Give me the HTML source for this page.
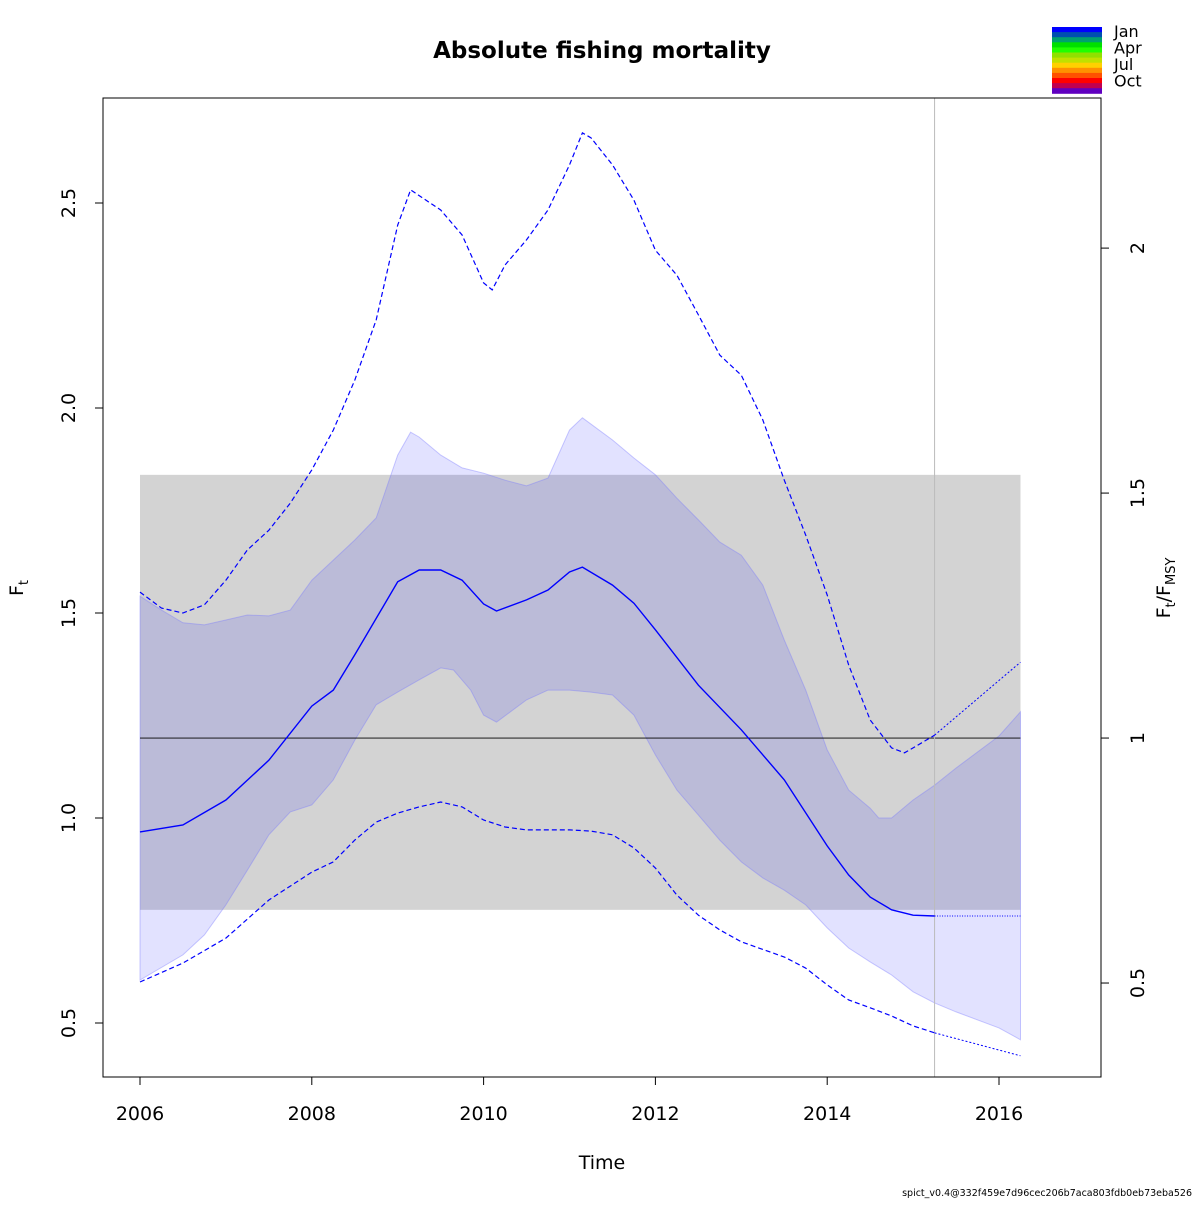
<!DOCTYPE html>
<html><head><meta charset="utf-8"><style>
body{margin:0;background:#fff}
svg{font-family:"DejaVu Sans","Liberation Sans",sans-serif}
</style></head><body>
<svg id="c" width="1200" height="1200" viewBox="0 0 1200 1200">
<rect width="1200" height="1200" fill="#fff"/>
<text x="602" y="58" text-anchor="middle" font-size="23" font-weight="bold">Absolute fishing mortality</text>
<g id="plot"></g>
<rect x="103" y="98" width="998" height="979" fill="none" stroke="#000" stroke-width="1"/>
<text x="602" y="1169" text-anchor="middle" font-size="19">Time</text>
<text transform="translate(23,588) rotate(-90)" text-anchor="middle" font-size="19">F<tspan font-size="13" dy="5">t</tspan></text>
<text transform="translate(1170,588) rotate(-90)" text-anchor="middle" font-size="19">F<tspan font-size="13" dy="5">t</tspan><tspan dy="-5">/F</tspan><tspan font-size="13" dy="5">MSY</tspan></text>
<g id="legend"></g>
<text x="1192" y="1196" text-anchor="end" font-size="9.5">spict_v0.4@332f459e7d96cec206b7aca803fdb0eb73eba526</text>
</svg>
<script>
const tMain=[2006,2006.5,2007,2007.5,2008,2008.25,2008.5,2009,2009.25,2009.5,2009.75,2010,2010.15,2010.5,2010.75,2011,2011.15,2011.5,2011.75,2012,2012.5,2013,2013.5,2014,2014.25,2014.5,2014.75,2015,2015.25];
const fMain=[0.966,0.983,1.044,1.141,1.273,1.312,1.398,1.576,1.605,1.605,1.580,1.522,1.505,1.532,1.556,1.600,1.612,1.568,1.524,1.459,1.324,1.215,1.093,0.932,0.861,0.807,0.776,0.763,0.761];
const predEnd=2016.25;
const tUp=[2006,2006.25,2006.5,2006.75,2007,2007.25,2007.5,2007.75,2008,2008.25,2008.5,2008.75,2009,2009.15,2009.25,2009.5,2009.75,2010,2010.25,2010.5,2010.75,2011,2011.15,2011.5,2011.75,2012,2012.25,2012.5,2012.75,2013,2013.25,2013.5,2013.75,2014,2014.25,2014.5,2014.6,2014.75,2015,2015.25,2015.5,2016,2016.25];
const fUp=[1.541,1.507,1.476,1.471,1.483,1.495,1.493,1.507,1.580,1.629,1.678,1.732,1.885,1.941,1.929,1.885,1.854,1.841,1.824,1.810,1.829,1.946,1.976,1.922,1.878,1.837,1.780,1.727,1.673,1.641,1.568,1.434,1.312,1.166,1.068,1.024,1.000,1.000,1.044,1.080,1.122,1.200,1.259];
const tLo=[2006,2006.5,2006.75,2007,2007.25,2007.5,2007.75,2008,2008.25,2008.5,2008.75,2009,2009.25,2009.5,2009.65,2009.85,2010,2010.15,2010.5,2010.75,2011,2011.25,2011.5,2011.75,2012,2012.25,2012.5,2012.75,2013,2013.25,2013.5,2013.75,2014,2014.25,2014.5,2014.75,2015,2015.25,2015.5,2016,2016.25];
const fLo=[0.605,0.666,0.715,0.788,0.873,0.959,1.015,1.032,1.093,1.190,1.276,1.307,1.337,1.366,1.361,1.312,1.251,1.234,1.288,1.312,1.312,1.307,1.300,1.251,1.154,1.068,1.007,0.946,0.893,0.854,0.824,0.788,0.732,0.683,0.649,0.617,0.576,0.549,0.527,0.488,0.459];
const tDU=[2006,2006.25,2006.5,2006.75,2007,2007.25,2007.5,2007.75,2008,2008.25,2008.5,2008.75,2009,2009.15,2009.5,2009.75,2010,2010.1,2010.25,2010.5,2010.75,2011,2011.15,2011.25,2011.5,2011.75,2012,2012.25,2012.5,2012.75,2013,2013.25,2013.5,2013.75,2014,2014.25,2014.5,2014.75,2014.9,2015,2015.25];
const fDU=[1.551,1.512,1.500,1.520,1.580,1.654,1.702,1.768,1.849,1.946,2.068,2.215,2.446,2.532,2.483,2.422,2.305,2.288,2.349,2.410,2.483,2.593,2.671,2.659,2.593,2.507,2.385,2.324,2.227,2.129,2.080,1.971,1.824,1.690,1.544,1.373,1.239,1.171,1.159,1.171,1.202];
const fDUpredEnd=1.380;
const tDL=[2006,2006.5,2007,2007.5,2008,2008.25,2008.5,2008.75,2009,2009.25,2009.5,2009.75,2010,2010.25,2010.5,2011,2011.25,2011.5,2011.75,2012,2012.25,2012.5,2012.75,2013,2013.5,2013.75,2014,2014.25,2014.5,2014.75,2015,2015.25];
const fDL=[0.600,0.646,0.707,0.800,0.868,0.893,0.946,0.990,1.012,1.027,1.039,1.027,0.995,0.978,0.971,0.971,0.968,0.959,0.927,0.878,0.812,0.763,0.727,0.698,0.661,0.634,0.593,0.556,0.537,0.517,0.493,0.476];
const fDLpredEnd=0.420;
const fmsy=1.195, fmsyLo=0.776, fmsyHi=1.837;
const xTicks=[2006,2008,2010,2012,2014,2016];
const yTicks=[0.5,1.0,1.5,2.0,2.5];
const yTickLabels=["0.5","1.0","1.5","2.0","2.5"];
const rTicks=[0.5,1,1.5,2];
const rTickLabels=["0.5","1","1.5","2"];
const legendColors=["#0000ff","#0050b0","#00a070","#00e000","#20ff00","#90e000","#c0e000","#ffd000","#ff9000","#ff5000","#ff0000","#c00050","#6000c0"];
const legendLabels=["Jan","Apr","Jul","Oct"];

const X=t=>140+85.9*(t-2006);
const Y=v=>1023-410*(v-0.5);
const NS="http://www.w3.org/2000/svg";
const plot=document.getElementById('plot');
function mk(tag,attrs,parent){const e=document.createElementNS(NS,tag);for(const k in attrs)e.setAttribute(k,attrs[k]);(parent||plot).appendChild(e);return e;}
function pts(ts,vs){return ts.map((t,i)=>X(t).toFixed(1)+','+Y(vs[i]).toFixed(1));}

let e=mk('rect',{x:X(2006),y:Y(fmsyHi),width:X(predEnd)-X(2006),height:Y(fmsyLo)-Y(fmsyHi),fill:'#d3d3d3'});


const poly=pts(tUp,fUp).concat(pts(tLo,fLo).reverse());
e=mk('polygon',{points:poly.join(' '),fill:'rgba(0,0,255,0.114)',stroke:'rgba(120,120,255,0.4)','stroke-width':1});


e=mk('line',{x1:X(2006),x2:X(predEnd),y1:Y(fmsy),y2:Y(fmsy),stroke:'#000','stroke-width':0.8});


e=mk('line',{x1:X(2015.25),x2:X(2015.25),y1:98,y2:1077,stroke:'#bbb','stroke-width':1});


e=mk('polyline',{points:pts(tDU,fDU).join(' '),fill:'none',stroke:'#0000ff','stroke-width':1.2,'stroke-dasharray':'5,3'});


e=mk('polyline',{points:[X(2015.25)+','+Y(fDU[fDU.length-1]),X(predEnd)+','+Y(fDUpredEnd)].join(' '),fill:'none',stroke:'#0000ff','stroke-width':1,'stroke-dasharray':'2,2'});


e=mk('polyline',{points:pts(tDL,fDL).join(' '),fill:'none',stroke:'#0000ff','stroke-width':1.2,'stroke-dasharray':'5,3'});


e=mk('polyline',{points:[X(2015.25)+','+Y(fDL[fDL.length-1]),X(predEnd)+','+Y(fDLpredEnd)].join(' '),fill:'none',stroke:'#0000ff','stroke-width':1,'stroke-dasharray':'2,2'});


e=mk('polyline',{points:pts(tMain,fMain).join(' '),fill:'none',stroke:'#0000ff','stroke-width':1.4});


const last=fMain[fMain.length-1];
e=mk('line',{x1:X(2015.25),x2:X(predEnd),y1:Y(last),y2:Y(last),stroke:'#0000ff','stroke-width':1,'stroke-dasharray':'1,1.5'});



xTicks.forEach(t=>{
 e=mk('line',{x1:X(t),x2:X(t),y1:1077,y2:1085,stroke:'#000'});
 
 
 e=mk('text',{x:X(t),y:1120,'text-anchor':'middle','font-size':19});
 
 
 e.textContent=t;
});
yTicks.forEach((v,i)=>{
 e=mk('line',{x1:95,x2:103,y1:Y(v),y2:Y(v),stroke:'#000'});
 
 
 e=mk('text',{transform:`translate(75,${Y(v)}) rotate(-90)`,'text-anchor':'middle','font-size':19});
 
 
 e.textContent=yTickLabels[i];
});
rTicks.forEach((r,i)=>{
 const y=Y(r*fmsy);
 e=mk('line',{x1:1101,x2:1109,y1:y,y2:y,stroke:'#000'});
 
 
 e=mk('text',{transform:`translate(1144,${y}) rotate(-90)`,'text-anchor':'middle','font-size':19});
 
 
 e.textContent=rTickLabels[i];
});
const lg=document.getElementById('legend');
legendColors.forEach((c,i)=>{
 e=mk('rect',{x:1052,y:27+i*5.1,width:50,height:5.6,fill:c},lg);
 
 
});
legendLabels.forEach((l,i)=>{
 e=mk('text',{x:1114,y:37+i*16.5,'font-size':16},lg);
 
 
 e.textContent=l;
});
</script>
</body></html>
